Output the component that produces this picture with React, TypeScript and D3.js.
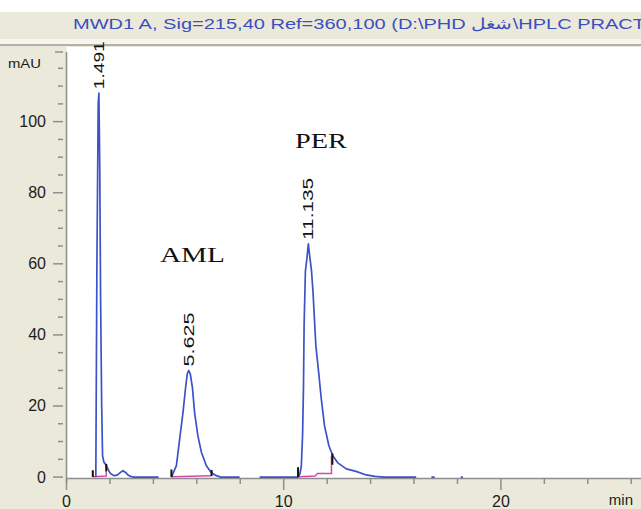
import React from 'react';
import * as d3 from 'd3';

// chromatogram trace (min, mAU); null = trace hidden under the axis
const traceTime = [
  1.35, 1.40, 1.46, 1.491, 1.53, 1.57, 1.62, 1.66, 1.72, 1.81, 1.9, 2.0, 2.07, 2.2, 2.35, 2.5, 2.6, 2.72, 2.85, 2.95, 3.1, 4.24,
  4.5,
  4.83, 5.06, 5.21, 5.36, 5.48, 5.56, 5.625, 5.7, 5.8, 5.9, 6.05, 6.21, 6.44, 6.67, 6.9, 7.1, 7.97,
  8.4,
  8.89, 10.66, 10.75, 10.81, 10.87, 10.91, 10.94, 11.0, 11.06, 11.135, 11.2, 11.28, 11.35, 11.48, 11.6, 11.73, 11.88, 12.08,
  12.26, 12.49, 12.88, 13.33, 13.8, 14.2, 14.6, 16.1,
  16.4, 16.8, 16.95, 17.5, 18.15, 18.25,
];
const traceSignal: (number | null)[] = [
  0, 60, 105, 108, 88, 50, 20, 6, 4.2, 3.5, 2.4, 1.2, 0.8, 0.4, 0.6, 1.4, 1.8, 1.3, 0.5, 0.2, 0, 0,
  null,
  0, 3.2, 10.7, 18, 25, 29, 30, 29, 25, 18, 11.6, 7, 3.2, 1.2, 0.4, 0, 0,
  null,
  0, 0, 1, 3, 12, 25, 43, 58, 61, 65.6, 62, 58, 52, 37, 30, 22, 14.4, 8.8,
  6, 4, 2.3, 1.6, 0.6, 0.2, 0, 0,
  null, 0, 0, null, 0, 0,
];

// integration baselines
const baselines: [number, number][][] = [
  [[1.21, 0.1], [1.83, 0.3], [1.83, 1.6]],
  [[4.83, 0.1], [6.68, 0.4]],
  [[10.66, 0.1], [11.45, 0.3], [11.55, 1.0], [12.2, 1.0], [12.2, 6]],
];
// peak start/end marks: [time, from, to]
const marks: [number, number, number][] = [
  [1.21, 0, 1.9], [1.83, 1.6, 3.7],
  [4.83, 0, 2.1], [6.68, 0.3, 2.0],
  [10.66, 0, 2.8], [12.24, 3.5, 6.6],
];

const peakTimes = [1.491, 5.625, 11.135];
const peakHeights = [108, 30, 65.6];
const peakLabels = ['1.491', '5.625', '11.135'];
const peakLabelLen = [48, 54, 62];

const yMajor = [0, 20, 40, 60, 80, 100];
const yMinor = d3.range(5, 121, 5).filter(v => v % 20 !== 0);
const xMajor = [0, 10, 20];
const xMinor = d3.range(2, 27, 2).filter(v => v % 10 !== 0);

const title = 'MWD1 A, Sig=215,40 Ref=360,100 (D:\\PHD شغل\\HPLC PRACT';

const W = 641;
const H = 509;
const left = 66.5;
const top = 47;
const bottom = 478.5;

const App: React.FC = () => {
  const x = d3.scaleLinear().domain([0, 26.45]).range([left, W]);
  const y = d3.scaleLinear().domain([-0.4, 121]).range([bottom, top]);

  const pts = traceTime.map((t, i) => [t, traceSignal[i]] as [number, number | null]);
  const line = d3.line<[number, number | null]>()
    .defined(d => d[1] !== null)
    .x(d => x(d[0]))
    .y(d => y(d[1] as number));
  const baseLine = d3.line<[number, number]>().x(d => x(d[0])).y(d => y(d[1]));

  const axisColor = '#8e8e8e';
  const font = "'Liberation Sans', Arial, sans-serif";

  return (
    <svg width={W} height={H} style={{ position: 'absolute', left: 0, top: 0 }} fontFamily={font}>
      <defs>
        <clipPath id="plot">
          <rect x={left} y={top} width={W - left} height={bottom - top + 2} />
        </clipPath>
      </defs>
      <rect x={0} y={0} width={W} height={H} fill="#ebe9da" />
      <rect x={0} y={0} width={W} height={12} fill="#ffffff" />
      <rect x={0} y={39} width={W} height={5} fill="#f6f5ef" />
      <line x1={0} x2={W} y1={45} y2={45} stroke="#a09e94" strokeWidth={1.5} />
      <text x={73} y={29} fontSize={15} fill="#3b4fbf" textLength={572} lengthAdjust="spacingAndGlyphs">{title}</text>

      <rect x={left} y={top} width={W - left} height={bottom - top} fill="#ffffff" />

      {/* y axis */}
      <line x1={left} x2={left} y1={52} y2={483} stroke={axisColor} strokeWidth={1.5} />
      <line x1={55} x2={63} y1={52} y2={52} stroke={axisColor} strokeWidth={1.5} />
      {yMajor.map(v => (
        <g key={'ym' + v}>
          <line x1={53} x2={63} y1={y(v)} y2={y(v)} stroke={axisColor} strokeWidth={1.5} />
          <text x={46} y={y(v) + 5.5} fontSize={16} textAnchor="end" fill="#1c1c1c">{v}</text>
        </g>
      ))}
      {yMinor.map(v => (
        <line key={'yn' + v} x1={58} x2={63} y1={y(v)} y2={y(v)} stroke={axisColor} strokeWidth={1.5} />
      ))}
      <text x={8} y={68} fontSize={13} fill="#1c1c1c" textLength={33} lengthAdjust="spacingAndGlyphs">mAU</text>

      {/* x axis */}
      <line x1={left} x2={W} y1={bottom} y2={bottom} stroke={axisColor} strokeWidth={1.5} />
      {xMajor.map(v => (
        <g key={'xm' + v}>
          <line x1={x(v)} x2={x(v)} y1={bottom} y2={490} stroke={axisColor} strokeWidth={1.5} />
          <text x={x(v)} y={507} fontSize={16} textAnchor="middle" fill="#1c1c1c">{v}</text>
        </g>
      ))}
      {xMinor.map(v => (
        <line key={'xn' + v} x1={x(v)} x2={x(v)} y1={bottom} y2={484} stroke={axisColor} strokeWidth={1.5} />
      ))}
      <text x={633} y={505} fontSize={15} textAnchor="end" fill="#1c1c1c">min</text>

      <g clipPath="url(#plot)">
        {baselines.map((b, i) => (
          <path key={'b' + i} d={baseLine(b) || ''} fill="none" stroke="#d44aa8" strokeWidth={1.5} />
        ))}
        <path d={line(pts) || ''} fill="none" stroke="#3c52c8" strokeWidth={1.7} strokeLinejoin="round" />
        {marks.map((m, i) => (
          <line key={'m' + i} x1={x(m[0])} x2={x(m[0])} y1={y(m[1])} y2={y(m[2])} stroke="#111" strokeWidth={2} />
        ))}
      </g>

      {peakTimes.map((t, i) => {
        const px = x(t) + 5;
        const py = y(peakHeights[i]) - 4;
        return (
          <text key={'pl' + i} x={px} y={py} fontSize={14} fill="#111"
            transform={`rotate(-90 ${px} ${py})`} textLength={peakLabelLen[i]} lengthAdjust="spacingAndGlyphs">
            {peakLabels[i]}
          </text>
        );
      })}

      <text x={160} y={262} fontSize={20} fontFamily="'Liberation Serif', 'Times New Roman', serif" fill="#111"
        textLength={65} lengthAdjust="spacingAndGlyphs">AML</text>
      <text x={295} y={148} fontSize={20} fontFamily="'Liberation Serif', 'Times New Roman', serif" fill="#111"
        textLength={52} lengthAdjust="spacingAndGlyphs">PER</text>
    </svg>
  );
};

export default App;
